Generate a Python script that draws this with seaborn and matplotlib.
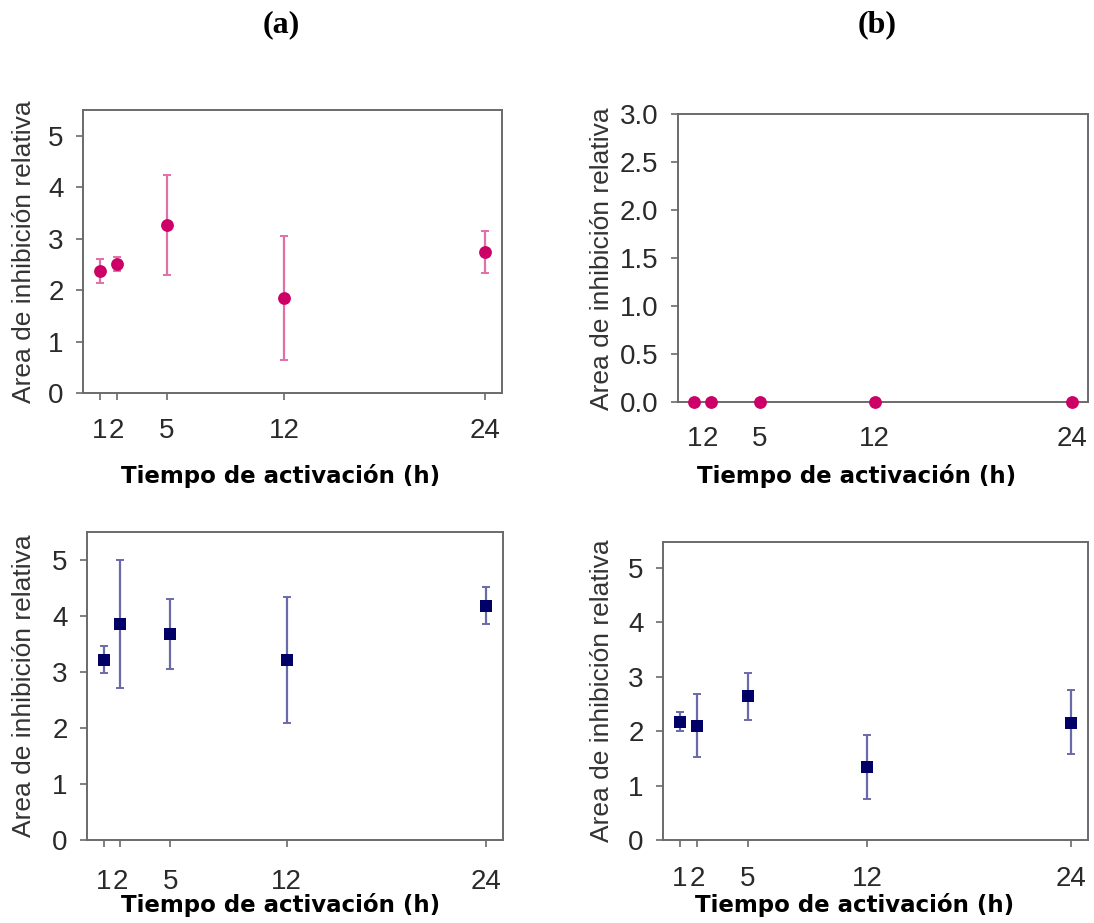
import matplotlib
matplotlib.use("Agg")
import matplotlib.pyplot as plt
import seaborn as sns
import pandas as pd
import numpy as np

sns.set_theme(style="white")
plt.rcParams['font.family'] = ['Liberation Sans', 'DejaVu Sans']

# ---- data ----
x_hours = [1, 2, 5, 12, 24]
tick_labels = ["1", "2", "5", "12", "24"]

a_mean = [2.37, 2.51, 3.26, 1.84, 2.74]
a_low = [2.13, 2.38, 2.29, 0.65, 2.34]
a_high = [2.61, 2.65, 4.24, 3.06, 3.14]

b_mean = [0.0, 0.0, 0.0, 0.0, 0.0]

c_mean = [3.21, 3.86, 3.68, 3.21, 4.18]
c_low = [2.98, 2.72, 3.05, 2.09, 3.86]
c_high = [3.46, 5.00, 4.30, 4.34, 4.51]

d_mean = [2.17, 2.10, 2.64, 1.34, 2.16]
d_low = [2.01, 1.52, 2.21, 0.75, 1.58]
d_high = [2.35, 2.69, 3.08, 1.93, 2.76]

ylabel = "Area de inhibición relativa"
xlabel = "Tiempo de activación (h)"

PINK = "#cc0066"
PINK_ERR = "#e070a8"
NAVY = "#000066"
NAVY_ERR = "#6a6aaa"

W, H = 1094, 923
fig = plt.figure(figsize=(W / 100, H / 100), dpi=100)
fig.patch.set_facecolor("white")


def px_axes(l, t, r, b):
    return fig.add_axes([l / W, 1 - b / H, (r - l) / W, (b - t) / H])


def style(ax, ylim, yticks, yfmt, xpad=13):
    ax.set_xlim(0, 25)
    ax.set_ylim(*ylim)
    ax.set_xticks(x_hours)
    ax.set_xticklabels(tick_labels)
    ax.set_yticks(yticks)
    ax.set_yticklabels([yfmt.format(v) for v in yticks])
    ax.set_xlabel("")
    ax.set_ylabel("")
    for s in ax.spines.values():
        s.set_color("#6a6a6a")
        s.set_linewidth(1.4)
        s.set_visible(True)
    ax.tick_params(axis="both", which="both", direction="out", length=5,
                   width=1.2, color="#6a6a6a", labelsize=20, labelcolor="#2a2a2a",
                   bottom=True, left=True)
    ax.tick_params(axis="x", pad=xpad)
    ax.tick_params(axis="y", pad=9)
    ax.set_facecolor("white")


def draw(ax, mean, low, high, marker, color, ecolor, size):
    df = pd.DataFrame({"x": x_hours, "y": mean})
    if low is not None:
        m = np.array(mean)
        yerr = np.vstack([m - np.array(low), np.array(high) - m])
        ax.errorbar(x_hours, mean, yerr=yerr, fmt="none", ecolor=ecolor,
                    elinewidth=1.6, capsize=3, capthick=1.4, zorder=2)
    sns.scatterplot(data=df, x="x", y="y", ax=ax, marker=marker, color=color,
                    s=size, edgecolor=color, linewidth=0, zorder=3, clip_on=False,
                    legend=False)


ax_a = px_axes(83, 110, 502, 393)
draw(ax_a, a_mean, a_low, a_high, "o", PINK, PINK_ERR, 85)
style(ax_a, (0, 5.5), [0, 1, 2, 3, 4, 5], "{:.0f}", xpad=13)

ax_b = px_axes(678, 114, 1088, 402)
draw(ax_b, b_mean, None, None, "o", PINK, PINK_ERR, 85)
style(ax_b, (0, 3.0), [0, 0.5, 1.0, 1.5, 2.0, 2.5, 3.0], "{:.1f}")
ax_b.tick_params(axis="x", length=0, pad=17)

ax_c = px_axes(87, 532, 503, 840)
draw(ax_c, c_mean, c_low, c_high, "s", NAVY, NAVY_ERR, 65)
style(ax_c, (0, 5.5), [0, 1, 2, 3, 4, 5], "{:.0f}", xpad=16)

ax_d = px_axes(663, 542, 1088, 840)
draw(ax_d, d_mean, d_low, d_high, "s", NAVY, NAVY_ERR, 65)
style(ax_d, (0, 5.48), [0, 1, 2, 3, 4, 5], "{:.0f}", xpad=14)

# y labels
for (xc, yc) in [(24, 252), (602, 259), (24, 686), (602, 691)]:
    fig.text(xc / W, 1 - yc / H, ylabel, rotation=90, ha="center", va="center",
             fontsize=19, color="#333333")

# x labels
for (xc, yc) in [(281, 476), (857, 476), (281, 905), (855, 905)]:
    fig.text(xc / W, 1 - yc / H, xlabel, ha="center", va="center",
             fontsize=16.5, fontweight="bold", color="black",
             family=["DejaVu Sans"])

# panel titles
fig.text(281 / W, 1 - 25 / H, "(a)", ha="center", va="center", fontsize=23,
         fontweight="bold", family=["Liberation Serif"], color="black")
fig.text(877 / W, 1 - 25 / H, "(b)", ha="center", va="center", fontsize=23,
         fontweight="bold", family=["Liberation Serif"], color="black")

fig.savefig("out.png", dpi=100, facecolor="white")
